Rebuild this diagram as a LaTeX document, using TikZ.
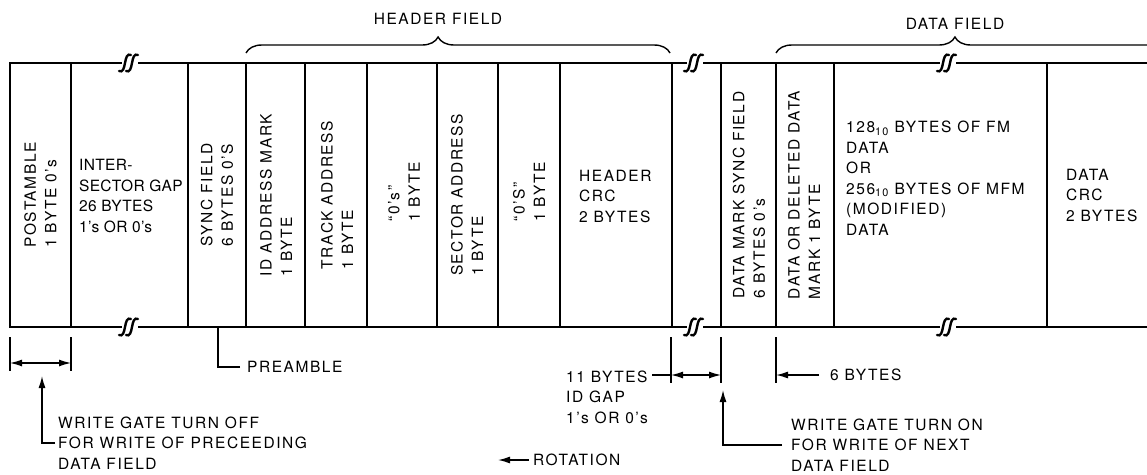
\documentclass[tikz,border=0pt]{standalone}
\usepackage{fontspec}
\setmainfont{TeX Gyre Heros}[LetterSpace=10]
\usepackage{tikz}
\usetikzlibrary{arrows.meta,positioning,calc,decorations.pathreplacing}

\tikzset{
  brk/.pic={
    \fill[white] (-8,-3) rectangle (8,3);
    \foreach \dx in {0,7}
      \draw[line width=2.4pt,line cap=round,xshift=\dx] (-11,8) .. controls (-7,10) and (-6,5) .. (-5,0)
        .. controls (-4,-5) and (-3,-10) .. (1,-8);
  }
}

\begin{document}
\begin{tikzpicture}[x=1pt,y=-1pt,
  lbl/.style={font=\fontsize{15.5}{20.5}\selectfont,align=left,inner sep=1pt},
  vlbl/.style={lbl,rotate=90},
  frame/.style={draw=black,line width=2.4pt,line join=miter},
  sep/.style={draw=black,line width=1.3pt},
  dim/.style={draw=black,line width=1.2pt},
  arr/.style={-{Latex[length=12pt,width=7pt]},draw=black,line width=1.4pt},
  darr/.style={{Latex[length=12pt,width=7pt]}-{Latex[length=12pt,width=7pt]},draw=black,line width=1.2pt},
  brc/.style={decorate,decoration={brace,amplitude=16pt,aspect=#1},draw=black,line width=1.4pt}]

\useasboundingbox (0,0) rectangle (1147,474);

% field labels and braces
\node[lbl] (hdr) at (438,19) {HEADER FIELD};
\node[lbl] (dfl) at (955,24) {DATA FIELD};
\draw[brc=0.453] (246,53) -- (670,53);
\draw[brc=0.422] (776,53) -- (1200,53);

% track band
\draw[frame] (1147,63) -- (10,63) -- (10,327) -- (1147,327);
\foreach \x in {71,188,246,305,367,437,498,560,672,721,776,834,1047}
  \draw[sep] (\x,63) -- (\x,327);
\foreach \x in {130,695,948} {
  \pic at (\x,63) {brk};
  \pic at (\x,327) {brk};
}

% field contents
\node[vlbl] (post) at (40.5,195) {POSTAMBLE\\1 BYTE 0's};
\node[lbl,anchor=west,font=\fontsize{15.5}{20.5}\selectfont\addfontfeatures{LetterSpace=2}] (isg) at (78,196) {INTER-\\SECTOR GAP\\26 BYTES\\1's OR 0's};
\node[vlbl] (sync) at (217,195) {SYNC FIELD\\6 BYTES 0'S};
\node[vlbl] (idam) at (276,195) {ID ADDRESS MARK\\1 BYTE};
\node[vlbl] (trk) at (337,195) {TRACK ADDRESS\\1 BYTE};
\node[vlbl] (zro1) at (404,192) {``0's''\\1 BYTE};
\node[vlbl] (sec) at (467,195) {SECTOR ADDRESS\\1 BYTE};
\node[vlbl] (zro2) at (529,192) {``0'S''\\1 BYTE};
\node[lbl,anchor=west] (hcrc) at (578,196) {HEADER\\CRC\\2 BYTES};
\node[vlbl] (dmsync) at (749,195) {DATA MARK SYNC FIELD\\6 BYTES 0's};
\node[vlbl] (dam) at (804,195) {DATA OR DELETED DATA\\MARK 1 BYTE};
\node[lbl,anchor=west] (dblk) at (845,178) {128\textsubscript{10} BYTES OF FM\\DATA\\OR\\256\textsubscript{10} BYTES OF MFM\\(MODIFIED)\\DATA};
\node[lbl,anchor=west] (dcrc) at (1065,195) {DATA\\CRC\\2 BYTES};

% postamble width and write gate off
\coordinate (pst1) at (10,363);
\coordinate (pst2) at (71,363);
\draw[dim] (10,337) -- (10,371) (71,337) -- (71,371);
\draw[darr] (pst1) -- (pst2);
\coordinate (offtip) at (42,376);
\node[lbl,anchor=west] (woff) at (57,443) {WRITE GATE TURN OFF\\FOR WRITE OF PRECEEDING\\DATA FIELD};
\draw[arr,shorten <=2pt] (woff.west) -| (offtip);

% preamble
\coordinate (syncb) at (218,327);
\node[lbl,anchor=west] (pre) at (246,367) {PREAMBLE};
\draw[dim,shorten <=6pt] (pre.west) -| (syncb);

% id gap
\coordinate (ga) at (671,375);
\coordinate (gb) at (721,375);
\draw[dim] (671,337) -- (671,383) (721,337) -- (721,383);
\draw[darr] (ga) -- (gb);
\node[lbl,anchor=west] (idgap) at (565,397) {11 BYTES\\ID GAP\\1's OR 0's};
\draw[dim,shorten <=3pt] (idgap.east |- ga) -- (ga);

% write gate on
\coordinate (ontip) at (723,390);
\node[lbl,anchor=west] (won) at (790,445) {WRITE GATE TURN ON\\FOR WRITE OF NEXT\\DATA FIELD};
\draw[arr,shorten <=8pt] (won.west) -| (ontip);

% data mark sync length
\coordinate (sx) at (776,375);
\draw[dim] (776,337) -- (776,383);
\node[lbl,anchor=west] (six) at (829,375) {6 BYTES};
\draw[arr,shorten <=10pt] (six.west) -- (sx);

% rotation
\coordinate (rotend) at (498,460);
\node[lbl,anchor=west] (rot) at (532,460) {ROTATION};
\draw[arr,shorten <=3pt] (rot.west) -- (rotend);

\end{tikzpicture}
\end{document}
